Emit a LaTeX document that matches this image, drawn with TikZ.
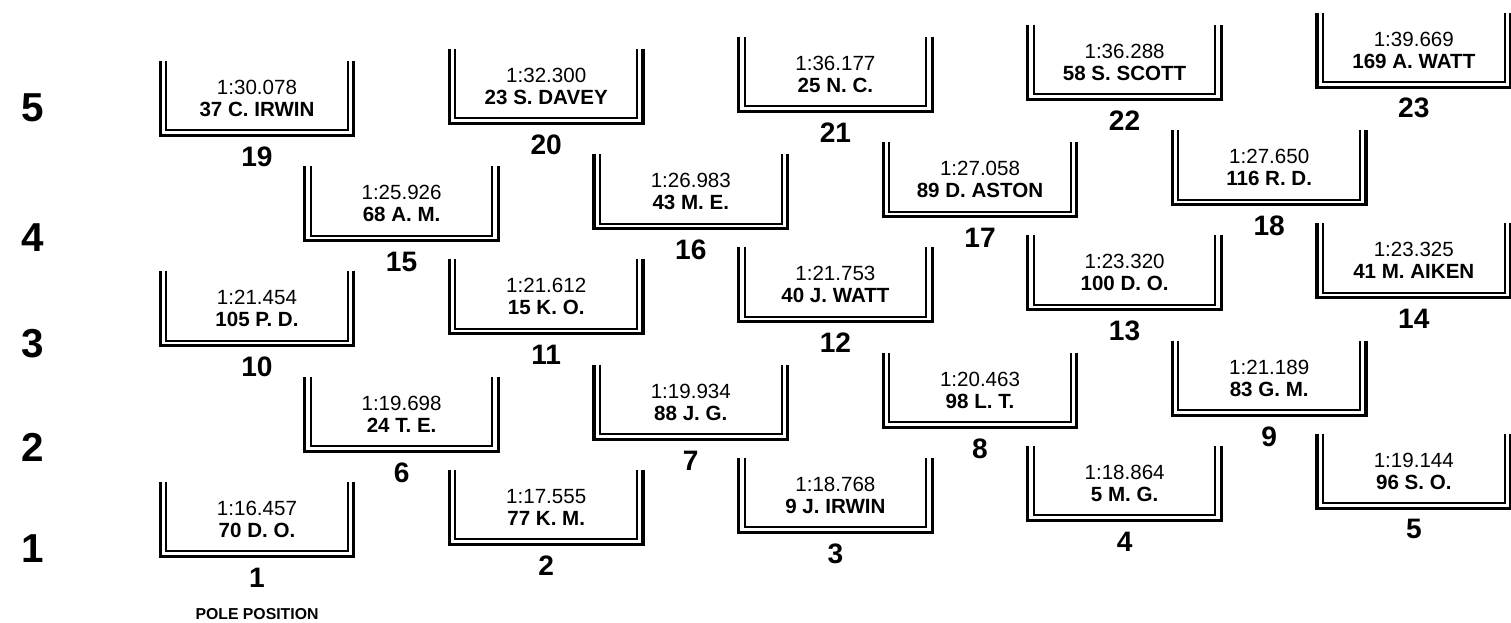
\documentclass[tikz,border=0pt]{standalone}
\usepackage{fontspec}
\setmainfont{Liberation Sans}
\usepackage{tikz}
\usetikzlibrary{positioning,calc}
\tikzstyle{slot} = [rectangle, minimum width=3.86cm, minimum height=1.48cm, inner sep=0pt, align=center, font=\fontsize{11.7}{12.5}\selectfont]
\tikzstyle{outerline} = [line width=1.8pt]
\tikzstyle{innerline} = [line width=1.1pt]
\tikzstyle{slotnum} = [font=\fontsize{16}{16}\selectfont\bfseries]
\tikzstyle{rowlabel} = [font=\fontsize{23}{23}\selectfont\bfseries]

\begin{document}
\begin{tikzpicture}[x=0.02cm, y=-0.02cm]
    \useasboundingbox (0,0) rectangle (1511,622);
    \foreach \r/\yy in {5/108, 4/238, 3/344, 2/447, 1/549}
        \node[rowlabel] (row\r) at (33,\yy) {\r};

    \foreach \slotno/\cc/\yb/\laptime/\driver in {
        1/0/556/1:16.457/70 D. O., 2/2/556/1:17.555/77 K. M., 3/4/556/1:18.768/9 J. IRWIN,
        4/6/556/1:18.864/5 M. G., 5/8/556/1:19.144/96 S. O.,
        6/1/457/1:19.698/24 T. E., 7/3/457/1:19.934/88 J. G., 8/5/457/1:20.463/98 L. T.,
        9/7/457/1:21.189/83 G. M.,
        10/0/345.5/1:21.454/105 P. D., 11/2/345.5/1:21.612/15 K. O., 12/4/345.5/1:21.753/40 J. WATT,
        13/6/345.5/1:23.320/100 D. O., 14/8/345.5/1:23.325/41 M. AIKEN,
        15/1/246.5/1:25.926/68 A. M., 16/3/246.5/1:26.983/43 M. E., 17/5/246.5/1:27.058/89 D. ASTON,
        18/7/246.5/1:27.650/116 R. D.,
        19/0/135/1:30.078/37 C. IRWIN, 20/2/135/1:32.300/23 S. DAVEY, 21/4/135/1:36.177/25 N. C.,
        22/6/135/1:36.288/58 S. SCOTT, 23/8/135/1:39.669/169 A. WATT}
    {
        \node[slot] (s\slotno) at ({257+144.6*\cc}, {\yb-37-6*\cc}) {\laptime\\\textbf{\driver}};
        \draw[outerline] (s\slotno.north west) |- (s\slotno.south east) -- (s\slotno.north east);
        \draw[innerline] ([xshift=0.12cm]s\slotno.north west) |- ([xshift=-0.12cm, yshift=0.1cm]s\slotno.south east) -- ([xshift=-0.12cm]s\slotno.north east);
        \node[slotnum] (n\slotno) at ([yshift=-0.42cm]s\slotno.south) {\slotno};
    }

    \node[font=\fontsize{9}{9}\selectfont\bfseries] (pole) at ([yshift=-0.74cm]n1) {POLE POSITION};
\end{tikzpicture}
\end{document}
